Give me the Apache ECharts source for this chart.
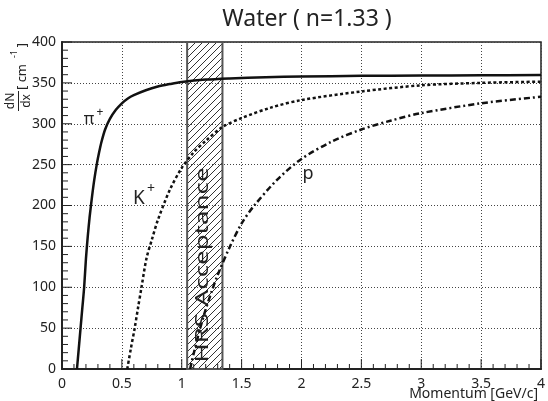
<!DOCTYPE html>
<html>
<head>
<meta charset="utf-8">
<script src="https://cdn.jsdelivr.net/npm/echarts@6/dist/echarts.min.js"></script>
<style>
  html, body { margin: 0; padding: 0; background: #fff; }
  #chart { width: 548px; height: 401px; }
</style>
</head>
<body>
<div id="chart"></div>
<script>
// momentum [GeV/c] and dN/dx [cm^-1]
var piMom = [0.125, 0.14, 0.155, 0.17, 0.185, 0.2, 0.215, 0.23, 0.25, 0.27, 0.29, 0.31, 0.33, 0.36, 0.4, 0.45, 0.5, 0.55, 0.6, 0.7, 0.8, 0.9, 1.0, 1.2, 1.4, 1.7, 2.0, 2.5, 3.0, 3.5, 4.0];
var piYield = [0, 25, 50, 75, 100, 135, 162, 185, 210, 232, 250, 265, 278, 293, 306, 317, 325, 331, 335, 341, 345.5, 348.5, 351, 354, 355.5, 357, 357.8, 358.6, 359, 359.3, 359.5];

var kMom = [0.545, 0.575, 0.607, 0.635, 0.664, 0.705, 0.75, 0.8, 0.9, 1.0, 1.1, 1.2, 1.34, 1.5, 1.75, 2.0, 2.5, 3.0, 3.5, 4.0];
var kYield = [0, 25, 50, 75, 100, 135, 158, 182, 219, 246, 265, 279, 296, 307, 320, 329, 339.5, 347, 350, 351.5];

var pMom = [1.07, 1.085, 1.1, 1.15, 1.2, 1.25, 1.3, 1.4, 1.5, 1.6, 1.8, 2.0, 2.25, 2.5, 2.75, 3.0, 3.5, 4.0];
var pYield = [0, 10, 19, 48, 73, 95, 115, 149, 178, 199, 232, 257, 278, 293, 304, 313, 325, 333];

var acceptance = [1.045, 1.34];

function pairs(xs, ys) {
  return xs.map(function (x, i) { return [x, ys[i]]; });
}

// diagonal hatch for the acceptance band
var hatch = document.createElement('canvas');
hatch.width = 7; hatch.height = 7;
var hc = hatch.getContext('2d');
hc.strokeStyle = '#333';
hc.lineWidth = 1;
hc.beginPath();
hc.moveTo(0, 7); hc.lineTo(7, 0);
hc.moveTo(-1, 1); hc.lineTo(1, -1);
hc.moveTo(6, 8); hc.lineTo(8, 6);
hc.stroke();

var FONT = 'Noto Sans';

// stretch the band label to its length in the plot
var meas = document.createElement('canvas').getContext('2d');
meas.font = '18px "' + FONT + '"';
var hrsScale = 195 / meas.measureText('HRS Acceptance').width;

function txt(x, y, s, size, rot, extra) {
  var el = { type: 'text', x: x, y: y, style: { text: s, font: size + 'px "' + FONT + '"', fill: '#222', align: 'center', verticalAlign: 'middle' } };
  if (rot) el.rotation = Math.PI / 2;
  if (extra) for (var k in extra) el[k] = extra[k];
  return el;
}

var labels = [
  // y axis title, rotated
  txt(11, 101, 'dN', 12, true),
  { type: 'line', shape: { x1: 18.5, y1: 91, x2: 18.5, y2: 111 }, style: { stroke: '#222', lineWidth: 1 } },
  txt(27, 101, 'dx', 12, true),
  txt(22, 77, '[ cm', 13, true),
  txt(14, 54, '-1', 9, true),
  txt(22, 45, ']', 13, true),
  // x axis title
  { type: 'text', x: 538, y: 394, style: { text: 'Momentum [GeV/c]', font: '14px "' + FONT + '"', fill: '#222', align: 'right', verticalAlign: 'middle' } },
  // particle labels
  txt(89, 119, 'π', 16),
  txt(100, 113, '+', 12),
  txt(139, 199, 'K', 19),
  txt(151, 189, '+', 14),
  txt(308, 174, 'p', 18),
  // acceptance band label
  txt(203, 265, 'HRS Acceptance', 18, true, { scaleX: hrsScale, z: 10 })
];

var chart = echarts.init(document.getElementById('chart'));
chart.setOption({
  animation: false,
  textStyle: { fontFamily: FONT },
  title: {
    text: 'Water ( n=1.33 )',
    left: 302,
    top: 3,
    textAlign: 'center',
    textStyle: { fontSize: 23, fontWeight: 'normal', color: '#222', fontFamily: FONT }
  },
  grid: {
    left: 62, right: 6, top: 42, bottom: 32,
    show: true, borderColor: '#222', borderWidth: 1.5
  },
  xAxis: {
    type: 'value',
    min: 0, max: 4, interval: 0.5,
    axisLine: { show: true, onZero: false, lineStyle: { color: '#222', width: 2 } },
    axisTick: { show: false },
    axisLabel: { fontSize: 14, color: '#222' },
    splitLine: { show: true, lineStyle: { color: '#444', type: [1, 2] } }
  },
  yAxis: {
    type: 'value',
    min: 0, max: 400, interval: 50,
    axisLine: { show: true, onZero: false, lineStyle: { color: '#222', width: 2 } },
    axisTick: { show: false },
    axisLabel: { fontSize: 14, color: '#222', margin: 6 },
    splitLine: { show: true, lineStyle: { color: '#444', type: [1, 2] } }
  },
  series: [
    {
      type: 'line',
      data: [],
      z: 1,
      markArea: {
        silent: true,
        itemStyle: {
          color: { image: hatch, repeat: 'repeat' },
          borderColor: '#555',
          borderWidth: 2
        },
        data: [[{ xAxis: acceptance[0] }, { xAxis: acceptance[1] }]]
      }
    },
    {
      name: 'pi+',
      type: 'line',
      data: pairs(piMom, piYield),
      showSymbol: false,
      smooth: 0.3,
      z: 3,
      lineStyle: { color: '#111', width: 2.5 }
    },
    {
      name: 'K+',
      type: 'line',
      data: pairs(kMom, kYield),
      showSymbol: false,
      smooth: 0.3,
      z: 3,
      lineStyle: { color: '#111', width: 2.5, type: [3, 2.5] }
    },
    {
      name: 'p',
      type: 'line',
      data: pairs(pMom, pYield),
      showSymbol: false,
      smooth: 0.3,
      z: 3,
      lineStyle: { color: '#111', width: 2.5, type: [6, 3, 2, 3] }
    }
  ],
  graphic: labels
});

// inward ticks (ROOT style), placed through the axis scales
var ticks = [];
var origin = chart.convertToPixel({ gridIndex: 0 }, [0, 0]);
for (var i = 0; i <= 40; i++) {
  var px = chart.convertToPixel({ gridIndex: 0 }, [i / 10, 0])[0];
  var len = i % 5 === 0 ? 10 : 5;
  ticks.push({ type: 'line', z: 5, shape: { x1: px, y1: origin[1], x2: px, y2: origin[1] - len }, style: { stroke: '#222', lineWidth: 1 } });
}
for (var j = 0; j <= 40; j++) {
  var py = chart.convertToPixel({ gridIndex: 0 }, [0, j * 10])[1];
  var leny = j % 5 === 0 ? 10 : 6;
  ticks.push({ type: 'line', z: 5, shape: { x1: origin[0], y1: py, x2: origin[0] + leny, y2: py }, style: { stroke: '#222', lineWidth: 1 } });
}
chart.setOption({ graphic: labels.concat(ticks) });
</script>
</body>
</html>
